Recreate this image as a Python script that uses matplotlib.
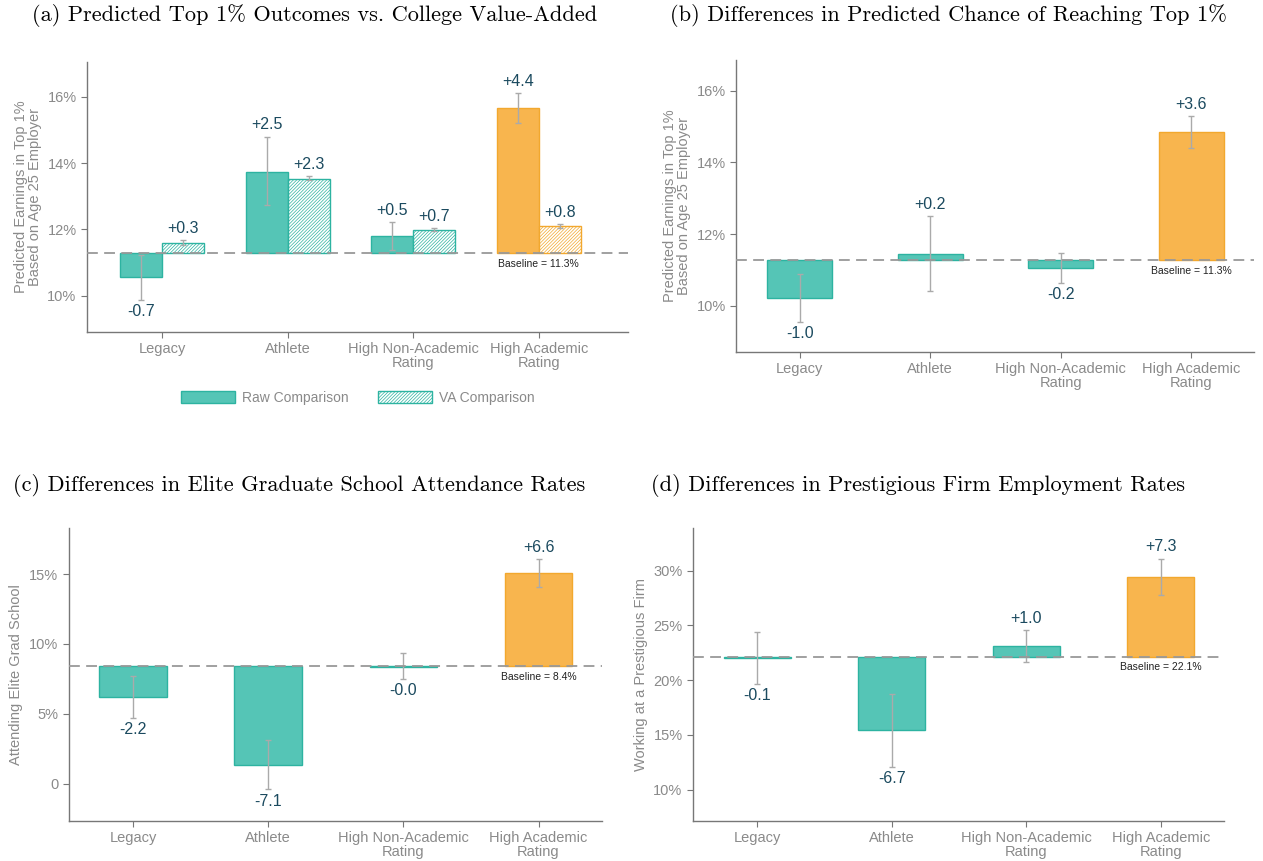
"""Admissions advantages: top 1%, elite grad school and prestigious firm outcomes."""

import matplotlib
matplotlib.use("Agg")
import matplotlib.pyplot as plt
from matplotlib.patches import Patch
from matplotlib.ticker import FuncFormatter

# =============================================================================
# data (percentage points)
categories = ["Legacy", "Athlete", "High Non-Academic\nRating", "High Academic\nRating"]

# (a) top 1% outcomes, raw vs value-added comparison
a_baseline = 11.27
a_raw_diff = [-0.71, 2.47, 0.52, 4.38]
a_raw_lo = [9.88, 12.72, 11.38, 15.20]
a_raw_hi = [11.22, 14.80, 12.23, 16.12]
a_va_diff = [0.32, 2.26, 0.72, 0.82]
a_va_lo = [11.53, 13.49, 11.94, 12.04]
a_va_hi = [11.68, 13.60, 12.03, 12.15]

# (b) chance of reaching top 1%
b_baseline = 11.27
b_diff = [-1.04, 0.18, -0.21, 3.59]
b_lo = [9.55, 10.42, 10.63, 14.40]
b_hi = [10.90, 12.50, 11.48, 15.30]

# (c) elite graduate school attendance
c_baseline = 8.42
c_diff = [-2.21, -7.08, -0.04, 6.63]
c_lo = [4.74, -0.40, 7.48, 14.05]
c_hi = [7.68, 3.12, 9.38, 16.09]

# (d) prestigious firm employment
d_baseline = 22.13
d_diff = [-0.12, -6.70, 0.98, 7.28]
d_lo = [19.66, 12.05, 21.70, 27.76]
d_hi = [24.38, 18.75, 24.57, 31.10]

titles = [
    "(a) Predicted Top 1% Outcomes vs. College Value-Added",
    "(b) Differences in Predicted Chance of Reaching Top 1%",
    "(c) Differences in Elite Graduate School Attendance Rates",
    "(d) Differences in Prestigious Firm Employment Rates",
]

# =============================================================================
TEAL = "#55c5b6"
TEAL_EDGE = "#2db3a1"
ORANGE = "#f8b54e"
ORANGE_EDGE = "#f2a82e"
GREY = "#8a8a8a"
ERR = "#aaaaaa"
LABEL = "#1b4a5f"
HATCH = "//////////"

plt.rcParams["font.family"] = ["Liberation Sans", "DejaVu Sans"]
plt.rcParams["hatch.linewidth"] = 0.5

fig = plt.figure(figsize=(12.63, 8.61), dpi=100)


def style_axes(ax, xlim, ylim, ylabel, fmt):
    ax.set_xlim(*xlim)
    ax.set_ylim(*ylim)
    for s in ["top", "right"]:
        ax.spines[s].set_visible(False)
    for s in ["left", "bottom"]:
        ax.spines[s].set_color("#777777")
        ax.spines[s].set_linewidth(1.0)
    ax.set_xticks(range(len(categories)))
    ax.set_xticklabels(categories, fontsize=10.5, color=GREY, linespacing=1.0)
    ax.tick_params(axis="both", colors="#777777", labelcolor=GREY, length=4, width=0.8)
    ax.tick_params(axis="y", labelsize=10.5)
    ax.yaxis.set_major_formatter(FuncFormatter(fmt))
    ax.set_ylabel(ylabel, fontsize=10.5, color=GREY, linespacing=0.95)


def pct(v, pos):
    return "{:.0f}%".format(v)


def pct0(v, pos):
    return "0" if abs(v) < 1e-9 else "{:.0f}%".format(v)


def draw_bars(ax, x, base, diff, lo, hi, width, hatched=False):
    for i in range(len(diff)):
        last = i == len(diff) - 1
        col = ORANGE if last else TEAL
        edge = ORANGE_EDGE if last else TEAL_EDGE
        if hatched:
            ax.bar(x[i], diff[i], width, bottom=base, color="white", edgecolor=edge,
                   hatch=HATCH, linewidth=1.0, zorder=2)
        else:
            ax.bar(x[i], diff[i], width, bottom=base, color=col, edgecolor=edge,
                   linewidth=1.0, zorder=2)
        mid = base + diff[i]
        ax.errorbar(x[i], mid, yerr=[[mid - lo[i]], [hi[i] - mid]], fmt="none",
                    ecolor=ERR, elinewidth=1.0, capsize=2.5, capthick=1.0, zorder=3)
        txt = "{:+.1f}".format(diff[i])
        if diff[i] >= 0:
            ax.annotate(txt, (x[i], hi[i]), xytext=(0, 3), textcoords="offset points",
                        ha="center", va="bottom", fontsize=11.5, color=LABEL)
        else:
            ax.annotate(txt, (x[i], lo[i]), xytext=(0, -3), textcoords="offset points",
                        ha="center", va="top", fontsize=11.5, color=LABEL)


def baseline_line(ax, base):
    ax.axhline(base, color="#999999", lw=1.3, ls=(0, (6, 3.5)), zorder=4)
    ax.annotate("Baseline = {:.1f}%".format(base), (3, base), xytext=(0, -4),
                textcoords="offset points", ha="center", va="top", fontsize=7.5,
                color="#222222")


# -----------------------------------------------------------------------------
# (a)
ax = fig.add_axes([0.0689, 0.6144, 0.4283, 0.3136])
x = list(range(len(categories)))
w = 0.335
draw_bars(ax, [i - w / 2 for i in x], a_baseline, a_raw_diff, a_raw_lo, a_raw_hi, w)
draw_bars(ax, [i + w / 2 for i in x], a_baseline, a_va_diff, a_va_lo, a_va_hi, w, hatched=True)
baseline_line(ax, a_baseline)
style_axes(ax, (-0.6, 3.71), (8.9, 17.05),
           "Predicted Earnings in Top 1%\nBased on Age 25 Employer", pct)
ax.set_yticks([10, 12, 14, 16])
handles = [Patch(facecolor=TEAL, edgecolor=TEAL_EDGE, label="Raw Comparison"),
           Patch(facecolor="white", edgecolor=TEAL_EDGE, hatch=HATCH, label="VA Comparison")]
leg = ax.legend(handles=handles, loc="center", bbox_to_anchor=(0.5, -0.243), ncol=2,
                frameon=False, fontsize=10, handlelength=3.9, handleheight=1.0,
                columnspacing=2.1, handletextpad=0.5)
for t in leg.get_texts():
    t.set_color(GREY)

# (b)
ax = fig.add_axes([0.5828, 0.5912, 0.4101, 0.3391])
draw_bars(ax, x, b_baseline, b_diff, b_lo, b_hi, 0.5)
baseline_line(ax, b_baseline)
style_axes(ax, (-0.487, 3.48), (8.71, 16.86),
           "Predicted Earnings in Top 1%\nBased on Age 25 Employer", pct)
ax.set_yticks([10, 12, 14, 16])

# (c)
ax = fig.add_axes([0.0544, 0.0468, 0.4223, 0.3400])
draw_bars(ax, x, c_baseline, c_diff, c_lo, c_hi, 0.5)
baseline_line(ax, c_baseline)
style_axes(ax, (-0.476, 3.47), (-2.64, 18.3), "Attending Elite Grad School", pct0)
ax.set_yticks([0, 5, 10, 15])

# (d)
ax = fig.add_axes([0.5487, 0.0468, 0.4204, 0.3400])
draw_bars(ax, x, d_baseline, d_diff, d_lo, d_hi, 0.5)
baseline_line(ax, d_baseline)
style_axes(ax, (-0.478, 3.47), (7.17, 33.9), "Working at a Prestigious Firm", pct)
ax.set_yticks([10, 15, 20, 25, 30])

# titles
title_pos = [(0.2494, 0.982), (0.7506, 0.982), (0.2368, 0.4367), (0.7272, 0.4367)]
for (tx, ty), t in zip(title_pos, titles):
    fig.text(tx, ty, t, ha="center", va="center", fontsize=16.1,
             family=["cmr10", "DejaVu Serif"])

fig.savefig("out.png", dpi=100)
